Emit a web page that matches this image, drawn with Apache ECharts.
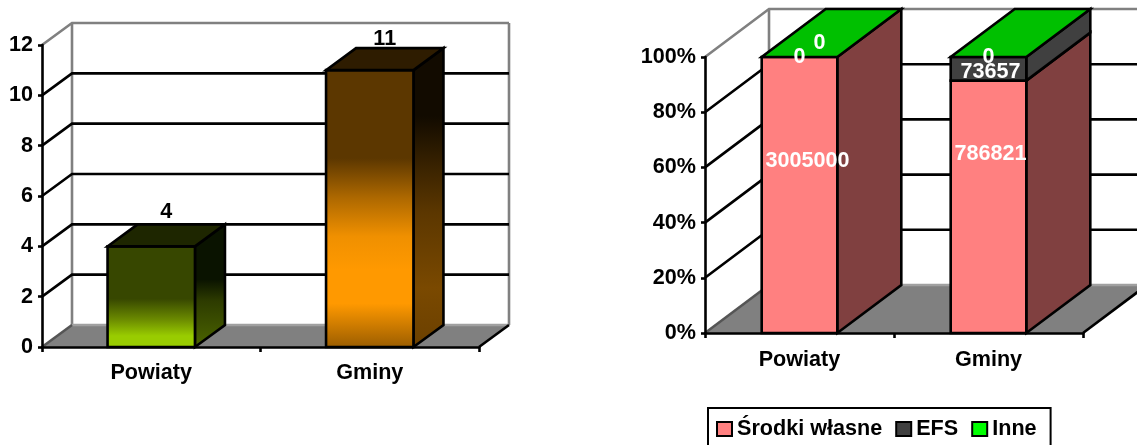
<!DOCTYPE html>
<html>
<head>
<meta charset="utf-8">
<style>
  html, body { margin: 0; padding: 0; background: #fff; overflow: hidden; }
  #chart { width: 1137px; height: 445px; }
</style>
<script src="https://cdn.jsdelivr.net/npm/echarts@6/dist/echarts.min.js"></script>
</head>
<body>
<div id="chart"></div>
<script>
// data
var categories = ['Powiaty', 'Gminy'];
var countValues = [4, 11];
var countTicks = [0, 2, 4, 6, 8, 10, 12];
var srodkiValues = [3005000, 786821];
var efsValues = [0, 73657];
var inneValues = [0, 0];
var shareTicks = [0, 20, 40, 60, 80, 100];

var FONT = '"Liberation Sans", Arial, sans-serif';
var FONT_SIZE = 21.6;
var LINE_W = 2.6;
var leftDepth = {x: 30, y: 22};
var rightDepth = {x: 64, y: 48};

function grad(stops) {
  return new echarts.graphic.LinearGradient(0, 0, 0, 1, stops.map(function (s) {
    return {offset: s[0], color: s[1]};
  }));
}

var countFaces = [
  {
    front: [[0, '#374700'], [0.52, '#374700'], [0.72, '#6b8a00'], [0.88, '#99cc00'], [1, '#99cc00']],
    side: [[0, '#0a1300'], [0.45, '#0a1300'], [0.62, '#2d3b00'], [1, '#4d6600']],
    top: '#1e2600'
  },
  {
    front: [[0, '#5c3700'], [0.32, '#5c3700'], [0.46, '#ad6800'], [0.6, '#f09000'], [0.72, '#ff9900'], [0.84, '#ff9900'], [1, '#995c00']],
    side: [[0, '#120b00'], [0.23, '#120b00'], [0.4, '#3a2300'], [0.55, '#5c3700'], [0.8, '#7a4900'], [1, '#6b4000']],
    top: '#2e1c00'
  }
];

// label tweaks, the original ones sit off-centre
var countNudge = [-12, -9];
var shareNudge = {
  'Środki własne': [[8, -34], [2, -53]],
  'EFS': [[0, 0], [2, 3]],
  'Inne': [[20, -14], [0, 0]]
};

function poly(points, fill) {
  return {
    type: 'polygon',
    shape: {points: points},
    style: {fill: fill, stroke: '#000', lineWidth: LINE_W, lineJoin: 'miter'}
  };
}

function line(points, color) {
  return {
    type: 'polyline',
    shape: {points: points},
    style: {fill: 'none', stroke: color, lineWidth: LINE_W}
  };
}

// walls, floor and the gridlines that bend round the left wall
function wallSeries(gridIndex, ticks, depth) {
  var top = ticks[ticks.length - 1];
  return {
    type: 'custom',
    xAxisIndex: gridIndex,
    yAxisIndex: gridIndex,
    silent: true,
    z: 1,
    data: ticks.map(function (t) { return [0, t]; }),
    renderItem: function (params, api) {
      var t = api.value(1);
      var a = api.coord([0, t]);
      var band = api.size([1, 0])[0];
      var left = a[0] - band / 2;
      var right = left + band * categories.length;
      var dx = depth.x, dy = depth.y;
      var p = [left, a[1]], b = [left + dx, a[1] - dy], c = [right + dx, a[1] - dy];
      if (t === 0) {
        var topY = api.coord([0, top])[1] - dy;
        return {
          type: 'group',
          children: [
            {type: 'polygon', shape: {points: [p, b, c, [right, a[1]]]}, style: {fill: '#808080'}},
            line([b, [b[0], topY]], '#808080'),
            line([c, [c[0], topY]], '#808080'),
            line([b, c], '#a0a0a0'),
            line([p, b], '#555555'),
            line([c, [right, a[1]]], '#000')
          ]
        };
      }
      return line([p, b, c], t === top ? '#808080' : '#000');
    }
  };
}

function boxFaces(x0, x1, yLow, yHigh, depth, fill, side) {
  var dx = depth.x, dy = depth.y;
  return [
    poly([[x1, yLow], [x1 + dx, yLow - dy], [x1 + dx, yHigh - dy], [x1, yHigh]], side),
    poly([[x0, yLow], [x1, yLow], [x1, yHigh], [x0, yHigh]], fill)
  ];
}

function countSeries() {
  return {
    type: 'custom',
    xAxisIndex: 0,
    yAxisIndex: 0,
    silent: true,
    z: 2,
    data: countValues.map(function (v, i) { return [i, v]; }),
    renderItem: function (params, api) {
      var i = api.value(0), v = api.value(1);
      var low = api.coord([i, 0]), high = api.coord([i, v]);
      var w = api.size([1, 0])[0] * 0.4;
      var x0 = low[0] - w / 2, x1 = low[0] + w / 2;
      var d = leftDepth, face = countFaces[i];
      var kids = boxFaces(x0, x1, low[1], high[1], d, grad(face.front), grad(face.side));
      kids.push(poly([[x0, high[1]], [x1, high[1]], [x1 + d.x, high[1] - d.y], [x0 + d.x, high[1] - d.y]], face.top));
      kids.push({
        type: 'text',
        z2: 10,
        style: {
          text: String(v), x: low[0] + 15, y: high[1] - d.y + countNudge[i],
          align: 'center', verticalAlign: 'middle',
          font: 'bold ' + FONT_SIZE + 'px ' + FONT, fill: '#000'
        }
      });
      return {type: 'group', children: kids};
    }
  };
}

// 100% stack, every segment as [category, from%, to%, raw value]
function stackRows(values, below) {
  return values.map(function (v, i) {
    var total = srodkiValues[i] + efsValues[i] + inneValues[i];
    var base = below.reduce(function (s, arr) { return s + arr[i]; }, 0);
    return [i, base / total * 100, (base + v) / total * 100, v];
  });
}

function shareSeries(name, values, below, color, side, topFace) {
  return {
    name: name,
    type: 'custom',
    xAxisIndex: 1,
    yAxisIndex: 1,
    silent: true,
    z: 2,
    itemStyle: {color: color},
    data: stackRows(values, below),
    renderItem: function (params, api) {
      var i = api.value(0), from = api.value(1), to = api.value(2), raw = api.value(3);
      var low = api.coord([i, from]), high = api.coord([i, to]);
      var w = api.size([1, 0])[0] * 0.4;
      var x0 = low[0] - w / 2, x1 = low[0] + w / 2;
      var d = rightDepth;
      var kids = to > from ? boxFaces(x0, x1, low[1], high[1], d, color, side) : [];
      if (topFace) {
        kids.push(poly([[x0, high[1]], [x1, high[1]], [x1 + d.x, high[1] - d.y], [x0 + d.x, high[1] - d.y]], topFace));
      }
      var nudge = shareNudge[name][i];
      kids.push({
        type: 'text',
        z2: 10,
        style: {
          text: String(raw), x: low[0] + nudge[0], y: (low[1] + high[1]) / 2 + nudge[1],
          align: 'center', verticalAlign: 'middle',
          font: 'bold ' + FONT_SIZE + 'px ' + FONT, fill: '#fff'
        }
      });
      return {type: 'group', children: kids};
    }
  };
}

function catAxis(gridIndex, margin) {
  return {
    type: 'category',
    gridIndex: gridIndex,
    data: categories,
    z: 5,
    axisLine: {lineStyle: {color: '#000', width: LINE_W}},
    axisTick: {show: true, length: 5, lineStyle: {color: '#000', width: LINE_W}},
    axisLabel: {color: '#000', fontFamily: FONT, fontWeight: 'bold', fontSize: FONT_SIZE, margin: margin},
    splitLine: {show: false}
  };
}

function valAxis(gridIndex, ticks, format) {
  return {
    type: 'value',
    gridIndex: gridIndex,
    min: ticks[0],
    max: ticks[ticks.length - 1],
    interval: ticks[1] - ticks[0],
    z: 5,
    axisLine: {show: true, lineStyle: {color: '#000', width: LINE_W}},
    axisTick: {show: true, length: 4, lineStyle: {color: '#000', width: LINE_W}},
    axisLabel: {color: '#000', fontFamily: FONT, fontWeight: 'bold', fontSize: FONT_SIZE, margin: 9, formatter: format},
    splitLine: {show: false}
  };
}

var chart = echarts.init(document.getElementById('chart'));
chart.setOption({
  animation: false,
  backgroundColor: '#fff',
  grid: [
    {left: 42, top: 45, width: 437, height: 302},
    {left: 705, top: 57, width: 378, height: 276}
  ],
  xAxis: [catAxis(0, 15), catAxis(1, 16)],
  yAxis: [valAxis(0, countTicks, '{value}'), valAxis(1, shareTicks, '{value}%')],
  legend: {
    left: 708,
    top: 408,
    orient: 'horizontal',
    data: ['Środki własne', 'EFS', 'Inne'],
    icon: 'rect',
    itemWidth: 15,
    itemHeight: 14,
    itemGap: 13,
    padding: [10, 14, 30, 8],
    borderColor: '#000',
    borderWidth: 2,
    itemStyle: {borderColor: '#000', borderWidth: 2},
    textStyle: {color: '#000', fontFamily: FONT, fontWeight: 'bold', fontSize: FONT_SIZE}
  },
  series: [
    wallSeries(0, countTicks, leftDepth),
    wallSeries(1, shareTicks, rightDepth),
    countSeries(),
    shareSeries('Środki własne', srodkiValues, [], '#ff8080', '#804040'),
    shareSeries('EFS', efsValues, [srodkiValues], '#404040', '#404040'),
    shareSeries('Inne', inneValues, [srodkiValues, efsValues], '#00ff00', '#008000', '#00c000')
  ]
});
</script>
</body>
</html>
